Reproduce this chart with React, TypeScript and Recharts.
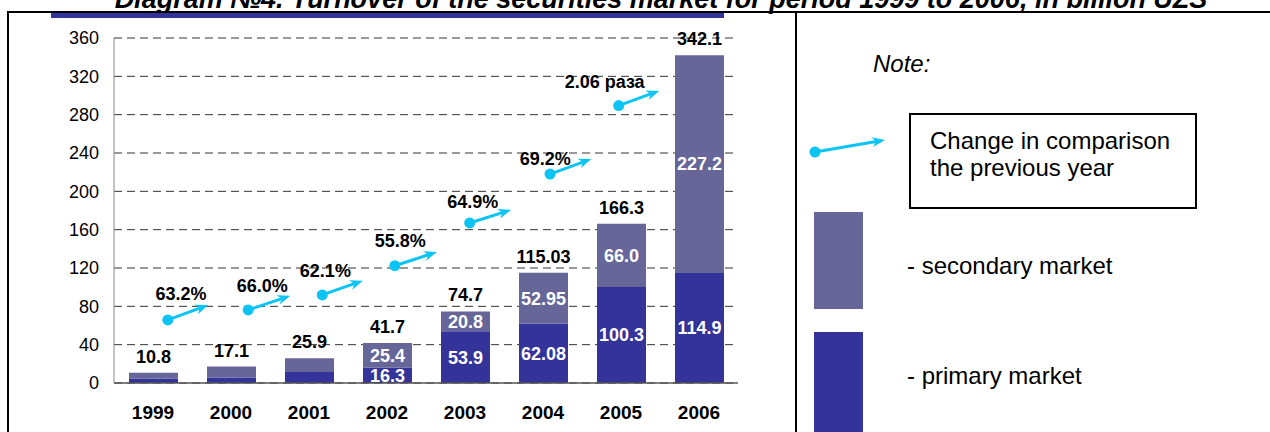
import React from 'react';
import {
  ComposedChart,
  ScatterChart,
  Bar,
  XAxis,
  YAxis,
  CartesianGrid,
  LabelList,
  ReferenceLine,
  ReferenceDot,
} from 'recharts';

const years = ['1999', '2000', '2001', '2002', '2003', '2004', '2005', '2006'];
const primary = [4.5, 5.5, 11.5, 16.3, 53.9, 62.08, 100.3, 114.9];
const secondary = [6.3, 11.6, 14.4, 25.4, 20.8, 52.95, 66.0, 227.2];
const totals = ['10.8', '17.1', '25.9', '41.7', '74.7', '115.03', '166.3', '342.1'];
const primaryLabels = [null, null, null, '16.3', '53.9', '62.08', '100.3', '114.9'];
const secondaryLabels = [null, null, null, '25.4', '20.8', '52.95', '66.0', '227.2'];
const yTicks = [0, 40, 80, 120, 160, 200, 240, 280, 320, 360];

// growth arrows, x in category slots (0..8), y in value units
const growthLabels = ['63.2%', '66.0%', '62.1%', '55.8%', '64.9%', '69.2%', '2.06 раза'];
const arrowStartX = [0.69, 1.72, 2.67, 3.6, 4.56, 5.59, 6.47];
const arrowStartY = [65.8, 76.2, 91.9, 122.4, 167, 218, 289.5];
const arrowEndX = [1.21, 2.26, 3.19, 4.14, 5.09, 6.12, 6.99];
const arrowEndY = [81.4, 91.1, 106.8, 136.7, 180.6, 233.8, 304.8];
const growthLabelX = [0.86, 1.9, 2.71, 3.67, 4.6, 5.53, 6.29];
const growthLabelY = [92.9, 101.3, 116.9, 148.2, 188.9, 234.6, 314.5];

const data = years.map((year, i) => ({
  year,
  primary: primary[i],
  secondary: secondary[i],
  total: totals[i],
  primaryLabel: primaryLabels[i],
  secondaryLabel: secondaryLabels[i],
}));

const CYAN = '#0BC4F4';
const PRIMARY = '#333399';
const SECONDARY = '#666699';
const FONT = 'Arial, "Liberation Sans", sans-serif';
const W = 800;
const H = 432;

function Arrow({ x1, y1, x2, y2 }: { x1: number; y1: number; x2: number; y2: number }) {
  const dx = x2 - x1;
  const dy = y2 - y1;
  const len = Math.sqrt(dx * dx + dy * dy) || 1;
  const ux = dx / len;
  const uy = dy / len;
  const nx = -uy;
  const ny = ux;
  const head = [
    [x2, y2],
    [x2 - 13 * ux + 5 * nx, y2 - 13 * uy + 5 * ny],
    [x2 - 9 * ux, y2 - 9 * uy],
    [x2 - 13 * ux - 5 * nx, y2 - 13 * uy - 5 * ny],
  ]
    .map((p) => p.join(','))
    .join(' ');
  return (
    <g>
      <line x1={x1} y1={y1} x2={x2 - 9 * ux} y2={y2 - 9 * uy} stroke={CYAN} strokeWidth={3} />
      <polygon points={head} fill={CYAN} />
      <circle cx={x1} cy={y1} r={5.5} fill={CYAN} />
    </g>
  );
}

const labelStyle = { fontSize: 18, fontWeight: 'bold' as const };

export default function App() {
  return (
    <div
      style={{
        position: 'relative',
        width: 1270,
        height: 432,
        overflow: 'hidden',
        background: '#fff',
        fontFamily: FONT,
      }}
    >
      <style>{'body{margin:0}'}</style>
      <div
        style={{
          position: 'absolute',
          left: 26,
          top: -14,
          width: 1270,
          textAlign: 'center',
          fontSize: 27,
          lineHeight: '27px',
          fontWeight: 'bold',
          fontStyle: 'italic',
          whiteSpace: 'nowrap',
        }}
      >
        Diagram №4. Turnover of the securities market for period 1999 to 2006, in billion UZS
      </div>

      <div style={{ position: 'absolute', left: 0, top: 0 }}>
        <ComposedChart
          width={W}
          height={H}
          data={data}
          margin={{ top: 38, right: 62, left: 54, bottom: 19 }}
        >
          <CartesianGrid vertical={false} strokeDasharray="8 5" stroke="#333" />
          <XAxis
            dataKey="year"
            height={30}
            tickLine={false}
            axisLine={{ stroke: '#555', strokeWidth: 1.5 }}
            tick={{ fill: '#000', fontSize: 19, fontWeight: 'bold' }}
            tickMargin={17}
          />
          <YAxis
            width={60}
            domain={[0, 360]}
            ticks={yTicks}
            interval={0}
            tickLine={false}
            axisLine={{ stroke: '#888' }}
            tick={{ fill: '#000', fontSize: 18 }}
            tickMargin={9}
          />
          <Bar dataKey="primary" stackId="m" fill={PRIMARY} barSize={49} isAnimationActive={false}>
            <LabelList dataKey="primaryLabel" position="center" fill="#fff" {...labelStyle} />
          </Bar>
          <Bar dataKey="secondary" stackId="m" fill={SECONDARY} barSize={49} isAnimationActive={false}>
            <LabelList dataKey="secondaryLabel" position="center" fill="#fff" {...labelStyle} />
            <LabelList dataKey="total" position="top" offset={10} fill="#000" {...labelStyle} />
          </Bar>
        </ComposedChart>
      </div>

      {/* overlay with numeric x scale for the growth arrows */}
      <div style={{ position: 'absolute', left: 0, top: 0, pointerEvents: 'none' }}>
        <ScatterChart width={W} height={H} margin={{ top: 38, right: 62, left: 114, bottom: 49 }}>
          <XAxis type="number" dataKey="x" domain={[0, 8]} allowDataOverflow hide />
          <YAxis type="number" dataKey="y" domain={[0, 360]} allowDataOverflow hide />
          {growthLabels.map((g, i) => (
            <ReferenceLine
              key={'a' + i}
              segment={[
                { x: arrowStartX[i], y: arrowStartY[i] },
                { x: arrowEndX[i], y: arrowEndY[i] },
              ]}
              shape={(p: any) => <Arrow x1={p.x1} y1={p.y1} x2={p.x2} y2={p.y2} />}
            />
          ))}
          {growthLabels.map((g, i) => (
            <ReferenceDot
              key={'l' + i}
              x={growthLabelX[i]}
              y={growthLabelY[i]}
              r={0}
              fill="none"
              stroke="none"
              label={{ value: g, position: 'center', fill: '#000', ...labelStyle }}
            />
          ))}
        </ScatterChart>
      </div>

      {/* frame */}
      <div style={{ position: 'absolute', left: 7, top: 11, width: 1263, height: 2, background: '#000' }} />
      <div style={{ position: 'absolute', left: 7, top: 11, width: 2, height: 421, background: '#000' }} />
      <div style={{ position: 'absolute', left: 795, top: 11, width: 2, height: 421, background: '#000' }} />
      <div style={{ position: 'absolute', left: 51, top: 13, width: 673, height: 5, background: PRIMARY }} />

      {/* note / legend */}
      <div style={{ position: 'absolute', left: 873, top: 50, fontSize: 24, fontStyle: 'italic' }}>Note:</div>
      <svg style={{ position: 'absolute', left: 800, top: 125 }} width={100} height={45}>
        <Arrow x1={15} y1={27} x2={85} y2={15} />
      </svg>
      <div
        style={{
          position: 'absolute',
          left: 909,
          top: 113,
          width: 284,
          height: 92,
          border: '2px solid #000',
          boxSizing: 'content-box',
        }}
      >
        <div style={{ position: 'absolute', left: 19, top: 12, fontSize: 24, lineHeight: '27px' }}>
          Change in comparison
          <br />
          the previous year
        </div>
      </div>
      <div style={{ position: 'absolute', left: 814, top: 212, width: 49, height: 97, background: SECONDARY }} />
      <div style={{ position: 'absolute', left: 907, top: 252, fontSize: 24 }}>- secondary market</div>
      <div style={{ position: 'absolute', left: 814, top: 332, width: 49, height: 100, background: PRIMARY }} />
      <div style={{ position: 'absolute', left: 907, top: 362, fontSize: 24 }}>- primary market</div>
    </div>
  );
}
